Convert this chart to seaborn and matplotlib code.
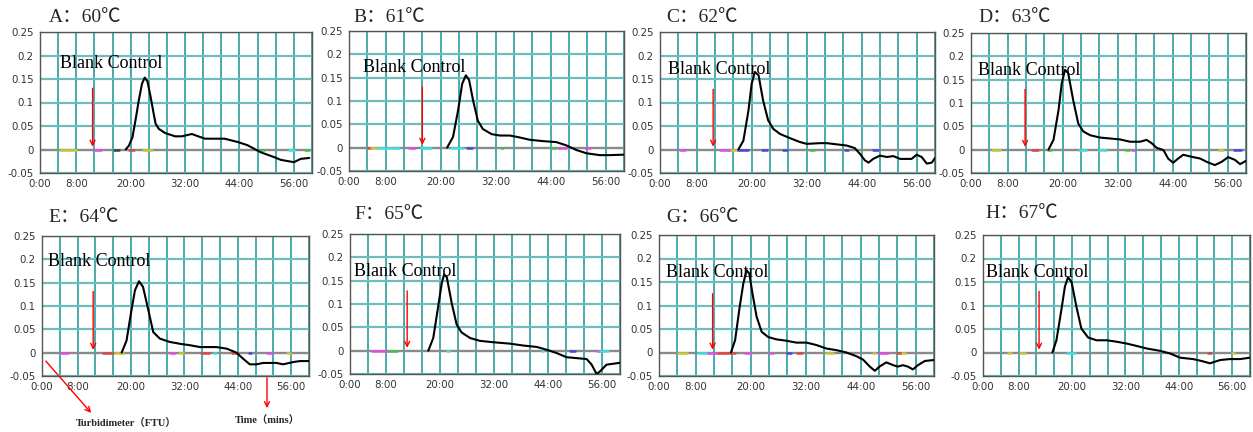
import matplotlib
matplotlib.use("Agg")
import matplotlib.pyplot as plt
from matplotlib.patches import FancyArrowPatch
import pandas as pd
import seaborn as sns

# ---------------- data ----------------
panel_labels = ["A", "B", "C", "D", "E", "F", "G", "H"]
temps = [60, 61, 62, 63, 64, 65, 66, 67]

t_A = [18.9, 19.6, 20.4, 21.2, 21.8, 22.5, 23.1, 23.7, 24.4, 25.0, 25.5, 26.2, 27.6, 29.8, 31.3, 33.5, 34.9, 36.4, 40.7, 43.6, 45.8, 48.7, 51.6, 53.1, 56.0, 57.5, 59.4]
v_A = [0.0, 0.008, 0.026, 0.070, 0.105, 0.140, 0.153, 0.145, 0.112, 0.080, 0.055, 0.044, 0.035, 0.028, 0.028, 0.033, 0.028, 0.023, 0.023, 0.016, 0.009, -0.006, -0.016, -0.022, -0.027, -0.020, -0.018]

t_B = [21.4, 22.7, 23.8, 24.7, 25.5, 26.2, 27.1, 28.1, 29.2, 31.1, 32.9, 35.1, 37.2, 39.4, 42.3, 45.2, 47.4, 49.6, 51.8, 54.7, 56.9, 60.0]
v_B = [0.0, 0.023, 0.080, 0.137, 0.155, 0.145, 0.100, 0.058, 0.040, 0.029, 0.026, 0.026, 0.022, 0.017, 0.014, 0.012, 0.005, -0.005, -0.012, -0.016, -0.016, -0.015]

t_C = [17.1, 18.2, 19.3, 20.0, 20.7, 21.5, 22.5, 23.6, 24.7, 26.2, 28.4, 30.5, 32.0, 34.9, 36.4, 38.5, 40.7, 42.5, 43.6, 44.7, 45.5, 46.5, 48.0, 49.5, 50.9, 52.4, 54.9, 56.0, 57.1, 58.2, 59.3, 60.0]
v_C = [0.0, 0.019, 0.083, 0.140, 0.165, 0.158, 0.104, 0.062, 0.044, 0.033, 0.024, 0.016, 0.012, 0.0135, 0.0135, 0.011, 0.0085, 0.003, -0.009, -0.023, -0.028, -0.020, -0.013, -0.016, -0.014, -0.020, -0.020, -0.011, -0.016, -0.030, -0.028, -0.018]

t_D = [16.9, 18.0, 19.1, 19.8, 20.5, 21.2, 22.3, 23.4, 24.5, 26.0, 28.1, 30.3, 32.5, 34.7, 36.9, 38.3, 39.4, 40.5, 42.0, 43.0, 44.1, 45.2, 46.3, 48.5, 50.0, 51.4, 53.2, 54.7, 56.1, 57.6, 58.7, 60.0]
v_D = [0.0, 0.021, 0.085, 0.142, 0.171, 0.164, 0.106, 0.056, 0.039, 0.031, 0.026, 0.024, 0.022, 0.017, 0.017, 0.021, 0.014, 0.004, -0.001, -0.019, -0.028, -0.019, -0.011, -0.016, -0.019, -0.026, -0.033, -0.026, -0.016, -0.022, -0.031, -0.024]

t_E = [17.9, 19.0, 20.1, 20.9, 21.8, 22.7, 23.9, 25.0, 26.5, 28.7, 31.0, 33.2, 35.5, 39.2, 41.5, 43.7, 45.2, 46.7, 48.2, 49.7, 52.7, 54.2, 56.5, 58.0, 60.0]
v_E = [0.0, 0.026, 0.091, 0.134, 0.153, 0.141, 0.091, 0.044, 0.030, 0.023, 0.019, 0.016, 0.012, 0.012, 0.0086, 0.0, -0.013, -0.025, -0.025, -0.022, -0.022, -0.025, -0.020, -0.018, -0.018]

t_F = [17.4, 18.5, 19.6, 20.4, 20.9, 21.5, 22.6, 23.7, 24.8, 26.7, 28.9, 31.9, 35.6, 38.5, 41.5, 43.7, 45.9, 48.1, 50.4, 52.6, 53.7, 54.8, 55.6, 57.0, 60.0]
v_F = [0.0, 0.027, 0.095, 0.145, 0.163, 0.158, 0.102, 0.056, 0.039, 0.027, 0.021, 0.018, 0.015, 0.011, 0.008, 0.002, -0.005, -0.014, -0.016, -0.018, -0.030, -0.050, -0.044, -0.030, -0.026]

t_G = [15.7, 16.6, 17.6, 18.4, 19.1, 19.7, 20.4, 21.3, 22.4, 23.8, 25.6, 27.8, 30.0, 32.2, 34.3, 36.5, 38.7, 40.9, 43.1, 44.5, 46.0, 47.1, 48.1, 49.6, 51.1, 52.1, 53.2, 54.3, 55.4, 56.5, 58.0, 60.0]
v_G = [0.0, 0.026, 0.097, 0.147, 0.175, 0.168, 0.125, 0.076, 0.044, 0.033, 0.028, 0.025, 0.021, 0.021, 0.016, 0.0085, 0.005, 0.0, -0.008, -0.015, -0.030, -0.039, -0.030, -0.021, -0.027, -0.030, -0.027, -0.030, -0.036, -0.027, -0.018, -0.016]

t_H = [15.6, 16.5, 17.6, 18.4, 19.1, 19.9, 21.0, 22.1, 23.6, 25.5, 27.8, 30.0, 32.3, 34.5, 36.8, 39.8, 42.0, 44.3, 47.2, 49.1, 51.0, 53.3, 55.5, 57.8, 60.0]
v_H = [0.0, 0.026, 0.090, 0.140, 0.160, 0.150, 0.097, 0.051, 0.032, 0.026, 0.026, 0.023, 0.019, 0.014, 0.0085, 0.0035, -0.002, -0.011, -0.014, -0.018, -0.023, -0.016, -0.014, -0.014, -0.011]

# other channels: short coloured traces lying on the baseline (start, end, colour code)
seg_A = [(4.4, 8.0, "y"), (12.0, 13.5, "m"), (16.4, 17.5, "k"), (19.6, 20.7, "r"), (22.7, 24.6, "y"), (48.4, 49.5, "g"), (54.9, 56.0, "c"), (58.5, 59.3, "g")]
seg_B = [(4.1, 4.9, "r"), (4.9, 6.3, "y"), (6.3, 11.0, "c"), (13.2, 14.5, "m"), (15.8, 18.0, "c"), (22.3, 24.9, "c"), (25.8, 26.9, "b"), (33.1, 33.5, "g"), (44.1, 45.1, "g"), (45.6, 47.4, "m"), (51.4, 52.5, "m")]
seg_C = [(4.4, 5.5, "m"), (13.1, 15.5, "m"), (15.5, 17.0, "y"), (17.0, 19.3, "b"), (22.2, 23.3, "b"), (26.8, 27.6, "b"), (32.7, 33.5, "g"), (40.4, 41.1, "b"), (46.5, 47.6, "b")]
seg_D = [(4.5, 6.3, "y"), (13.2, 14.7, "r"), (16.9, 17.4, "g"), (23.6, 25.0, "c"), (28.0, 29.5, "c"), (33.8, 34.5, "g"), (35.2, 35.6, "m"), (54.2, 54.9, "y"), (57.4, 58.8, "b")]
seg_E = [(4.3, 5.9, "m"), (13.7, 16.0, "r"), (16.4, 18.2, "y"), (28.7, 29.9, "m"), (30.8, 31.7, "y"), (35.7, 37.5, "r"), (38.7, 39.2, "c"), (42.8, 44.1, "r"), (46.5, 46.9, "b"), (50.5, 51.6, "m"), (55.0, 55.7, "y")]
seg_F = [(4.8, 8.5, "m"), (8.5, 10.4, "g"), (21.6, 21.9, "c"), (42.6, 43.0, "c"), (48.9, 50.0, "b"), (54.8, 55.6, "m"), (55.6, 57.4, "c")]
seg_G = [(4.2, 6.0, "y"), (8.6, 10.7, "c"), (10.7, 12.6, "m"), (12.9, 16.6, "r"), (18.7, 20.0, "m"), (24.2, 24.9, "m"), (28.0, 28.7, "b"), (30.1, 31.3, "r"), (36.5, 38.0, "y"), (46.7, 47.1, "y"), (48.1, 50.0, "m"), (51.9, 52.9, "r"), (53.1, 53.7, "y")]
seg_H = [(5.6, 6.4, "y"), (8.3, 9.4, "y"), (18.9, 20.6, "c"), (50.6, 51.2, "r"), (56.0, 56.4, "y")]

arrow_x = [11.6, 16.0, 11.6, 11.8, 11.5, 12.7, 11.7, 12.6]
arrow_top = [0.136, 0.136, 0.134, 0.135, 0.137, 0.134, 0.131, 0.136]
label_x = [4.4, 3.0, 1.7, 1.5, 1.3, 0.9, 1.5, 0.7]
label_y = [0.182, 0.171, 0.171, 0.169, 0.196, 0.169, 0.171, 0.171]

xtick_minutes = [0, 8, 20, 32, 44, 56]
xtick_labels = ["0:00", "8:00", "20:00", "32:00", "44:00", "56:00"]
ytick_values = [-0.05, 0.0, 0.05, 0.1, 0.15, 0.2, 0.25]
ytick_labels = ["-0.05", "0", "0.05", "0.1", "0.15", "0.2", "0.25"]

times = [t_A, t_B, t_C, t_D, t_E, t_F, t_G, t_H]
values = [v_A, v_B, v_C, v_D, v_E, v_F, v_G, v_H]
segments = [seg_A, seg_B, seg_C, seg_D, seg_E, seg_F, seg_G, seg_H]

# ---------------- layout / style ----------------
W, H = 1253, 432
boxes = [(40, 312, 32, 173), (349, 624, 31, 171), (660, 935, 32, 173), (971, 1246, 33, 173),
         (42, 309, 236, 376), (350, 620, 234, 374), (659, 934, 235, 376), (983, 1250, 235, 376)]
xmax = [59.4, 60, 60, 60, 60, 60, 60, 60]
title_pos = [(49, 18), (353, 17), (666, 17), (978, 18), (48, 218), (354, 215), (666, 218), (985, 213)]
seg_colors = {"y": "#c8c83c", "m": "#e050e0", "c": "#40e0e0", "r": "#d84848",
              "b": "#4848e0", "g": "#48c048", "k": "#404040"}

sns.set_style("white")
plt.rcParams["font.family"] = ["DejaVu Sans"]
serif = ["Liberation Serif", "Noto Sans CJK SC"]

fig = plt.figure(figsize=(W / 100, H / 100), dpi=100)

for i in range(8):
    l, r, t, b = boxes[i]
    ax = fig.add_axes([l / W, 1 - b / H, (r - l) / W, (b - t) / H])
    ax.set_xlim(0, xmax[i])
    ax.set_ylim(-0.05, 0.25)

    xt = list(range(0, 61, 4))
    ax.set_xticks(xt)
    ax.set_xticklabels([xtick_labels[xtick_minutes.index(m)] if m in xtick_minutes else "" for m in xt])
    ax.set_yticks(ytick_values)
    ax.set_yticklabels(ytick_labels)
    ax.tick_params(axis="both", which="major", direction="out", length=3.5, width=0.8,
                   color="#333333", labelsize=7.4, labelcolor="#333333", pad=1)
    ax.xaxis.grid(True, color="#2a9d9d", lw=1.2)
    ax.yaxis.grid(True, color="#6fbcbc", lw=1.6)
    ax.set_axisbelow(True)
    for s in ax.spines.values():
        s.set_color("#555555")
        s.set_linewidth(1.0)

    ax.axhline(0, color="#8a8a8a", lw=1.6, zorder=2)

    for (s0, s1, c) in segments[i]:
        ax.plot([s0, s1], [-0.0015, -0.0015], color=seg_colors[c], lw=1.8, zorder=3)

    df = pd.DataFrame({"time": times[i], "ftu": values[i]})
    sns.lineplot(data=df, x="time", y="ftu", color="black", lw=1.5, ax=ax, zorder=4)
    ax.set_xlabel("")
    ax.set_ylabel("")

    ax.annotate("", xy=(arrow_x[i], 0.0), xytext=(arrow_x[i], arrow_top[i]),
                arrowprops=dict(arrowstyle="->", color="red", lw=1.0, mutation_scale=9),
                zorder=5)
    ax.text(label_x[i], label_y[i], "Blank Control", family=serif, fontsize=13,
            ha="left", va="center", color="black", zorder=6)

    tx, ty = title_pos[i]
    fig.text(tx / W, 1 - ty / H, f"{panel_labels[i]}：{temps[i]}℃", family=serif,
             fontsize=14, ha="left", va="center")

# bottom annotations (axis explanations)
def fpt(x, y):
    return (x / W, 1 - y / H)

fig.patches.append(FancyArrowPatch(fpt(44, 359), fpt(93, 415), transform=fig.transFigure,
                                   arrowstyle="->", color="red", lw=1.0, mutation_scale=9))
fig.patches.append(FancyArrowPatch(fpt(267, 375), fpt(267, 411), transform=fig.transFigure,
                                   arrowstyle="->", color="red", lw=1.0, mutation_scale=9))
fig.text(*fpt(126, 424), "Turbidimeter（FTU）", family=serif, fontsize=7.5, fontweight="bold",
         ha="center", va="center")
fig.text(*fpt(267, 421), "Time（mins）", family=serif, fontsize=7.5, fontweight="bold",
         ha="center", va="center")

fig.savefig("out.png", dpi=100, facecolor="white")
